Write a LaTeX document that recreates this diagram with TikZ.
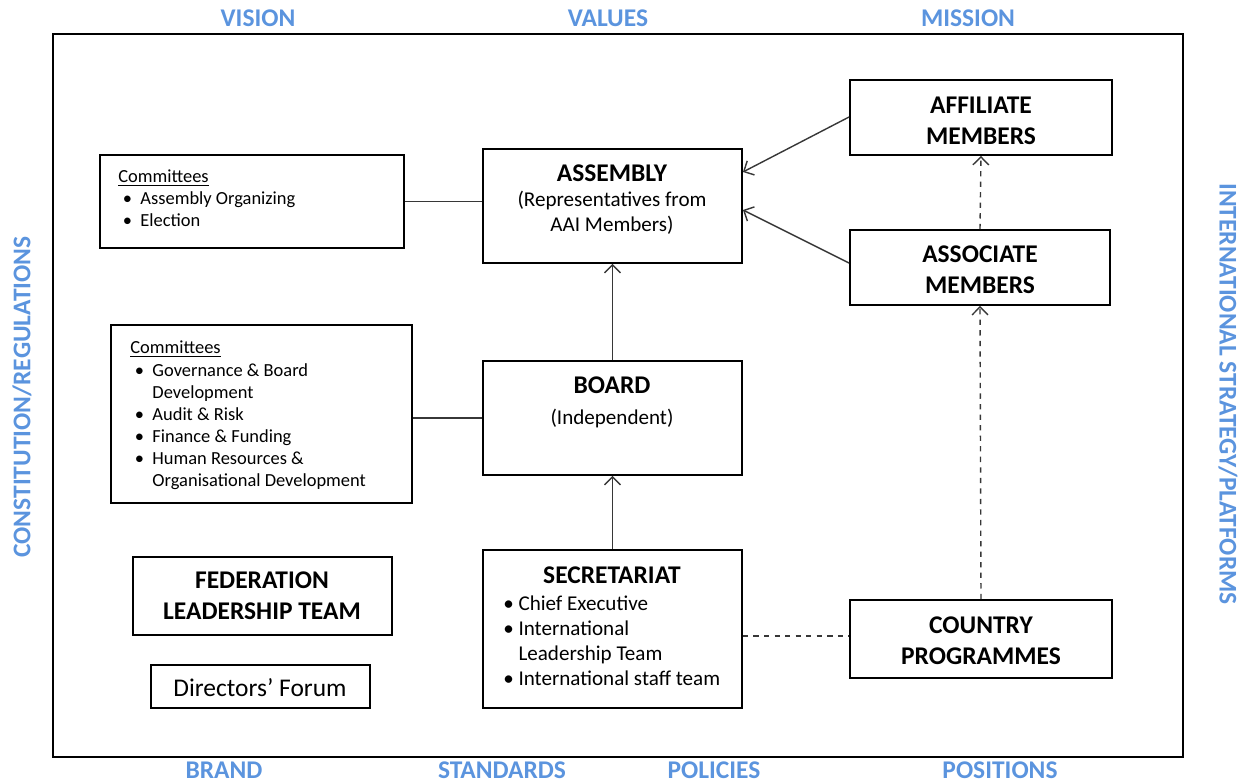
\documentclass[tikz,border=0pt]{standalone}
\usepackage{fontspec}
\setmainfont{Carlito}
\usetikzlibrary{arrows.meta}
\definecolor{cLink}{RGB}{55,55,55}
\definecolor{cTheme}{RGB}{91,148,222}
\newcommand{\fTitle}{\fontsize{14.5}{17.8}\bfseries\selectfont}
\newcommand{\fTheme}{\fontsize{14.5}{17}\bfseries\selectfont}
\newcommand{\fSub}{\fontsize{12}{14.2}\selectfont}
\newcommand{\fCom}{\fontsize{10.5}{12.6}\selectfont}
\newcommand{\fForum}{\fontsize{14.5}{17}\selectfont}
\newcommand{\itm}{\makebox[0.72em][l]{\textbullet}}
\newcommand{\ind}{\hspace*{0.72em}}
\newcommand{\citm}{\hspace*{0.25em}\makebox[0.95em][l]{\textbullet}}
\newcommand{\cind}{\hspace*{1.2em}}

\begin{document}
\begin{tikzpicture}[
  x=0.02cm,y=-0.02cm, font=\fSub, color=black,
  box/.style  ={draw=black, line width=1.1pt, inner sep=0pt, rectangle},
  txt/.style  ={inner sep=0pt, align=center},
  lst/.style  ={inner sep=0pt, align=left, anchor=west},
  theme/.style={text=cTheme, font=\fTheme, inner sep=0pt},
  link/.style ={draw=cLink, line width=0.8pt},
  up/.style   ={link, -{Straight Barb[length=4.5pt,width=9pt]}},
  dlink/.style={link, dash pattern=on 3pt off 3pt},
]
\useasboundingbox (0,0) rectangle (1249,784);

% ----- frame and the themes round it ----------------------------------
\draw[line width=1.2pt] (53,34) rectangle (1183,757);

\node[theme] (vision)  at (258,18)  {VISION};
\node[theme] (values)  at (608,18)  {VALUES};
\node[theme] (mission) at (968,18)  {MISSION};
\node[theme] (brand)     at (224,770)  {BRAND};
\node[theme] (standards) at (502,770)  {STANDARDS};
\node[theme] (policies)  at (714,770)  {POLICIES};
\node[theme] (positions) at (1000,770) {POSITIONS};
\node[theme,rotate=90]  (constitution) at (22,397)   {CONSTITUTION/REGULATIONS};
\node[theme,rotate=-90] (strategy)     at (1228,394) {INTERNATIONAL STRATEGY/PLATFORMS};

% ----- boxes -------------------------------------------------------------
\node[box,minimum width=6.08cm,minimum height=1.86cm] (comA)     at (252,201.5) {};
\node[box,minimum width=5.18cm,minimum height=2.28cm] (assembly) at (612.5,206) {};
\node[box,minimum width=5.24cm,minimum height=1.50cm] (affil)    at (981,117.5) {};
\node[box,minimum width=5.20cm,minimum height=1.50cm] (assoc)    at (980,267.5) {};
\node[box,minimum width=6.02cm,minimum height=3.56cm] (comB)     at (261.5,414) {};
\node[box,minimum width=5.18cm,minimum height=2.28cm] (board)    at (612.5,418) {};
\node[box,minimum width=5.18cm,minimum height=1.56cm] (flt)      at (262.5,596) {};
\node[box,minimum width=4.38cm,minimum height=0.86cm] (forum)    at (260.5,686.5) {};
\node[box,minimum width=5.18cm,minimum height=3.16cm] (secr)     at (612.5,629) {};
\node[box,minimum width=5.24cm,minimum height=1.56cm] (country)  at (981,639) {};

% ----- texts in the boxes ----------------------------------------------
\node[lst,font=\fCom] (comAT) at (118,198.5)
      {\underline{Committees}\\ \citm Assembly Organizing\\ \citm Election};
\node[lst,font=\fCom,text depth=0pt] (comBT) at (130,414)
      {\underline{Committees}\\ \citm Governance \& Board\\ \cind Development\\
       \citm Audit \& Risk\\ \citm Finance \& Funding\\ \citm Human Resources \&\\
       \cind Organisational Development};

\node[txt,font=\fTitle] (assemblyT) at (612,173)   {ASSEMBLY};
\node[txt] (assemblyS) at (612,212.5) {(Representatives from\\AAI Members)};
\node[txt,font=\fTitle] (boardT) at (612,385) {BOARD};
\node[txt] (boardS) at (612,418) {(Independent)};
\node[txt,font=\fTitle] (secrT) at (612,575) {SECRETARIAT};
\node[lst] (secrL) at (503,640.5)
      {\itm Chief Executive\\ \itm International\\ \ind Leadership Team\\
       \itm International staff team};

\node[txt,font=\fTitle] (affilT)   at (981,120.5) {AFFILIATE\\MEMBERS};
\node[txt,font=\fTitle] (assocT)   at (980,269.5) {ASSOCIATE\\MEMBERS};
\node[txt,font=\fTitle] (countryT) at (981,640.5) {COUNTRY\\PROGRAMMES};
\node[txt,font=\fTitle] (fltT)     at (262,596)   {FEDERATION\\LEADERSHIP TEAM};
\node[txt,font=\fForum] (forumT)   at (260,688)   {Directors' Forum};

% ----- connectors --------------------------------------------------------
\draw[link] (comA.east) -- (comA.east -| assembly.west);
\draw[link] (board.west -| comB.east) -- (board.west);
\draw[up] (board.north) -- (assembly.south);
\draw[up] (secr.north) -- (board.south);
\draw[up] ([yshift=0.01cm]affil.west) -- ([yshift=0.68cm]assembly.east);
\draw[up] ([yshift=0.09cm]assoc.west) -- ([yshift=-0.08cm]assembly.east);
\draw[up,dash pattern=on 3pt off 3pt] (assoc.north) -- (affil.south);
\draw[up,dash pattern=on 3pt off 3pt] (country.north) -- (assoc.south);
\draw[dlink] ([yshift=0.06cm]country.west -| secr.east) -- ([yshift=0.06cm]country.west);

\end{tikzpicture}
\end{document}
